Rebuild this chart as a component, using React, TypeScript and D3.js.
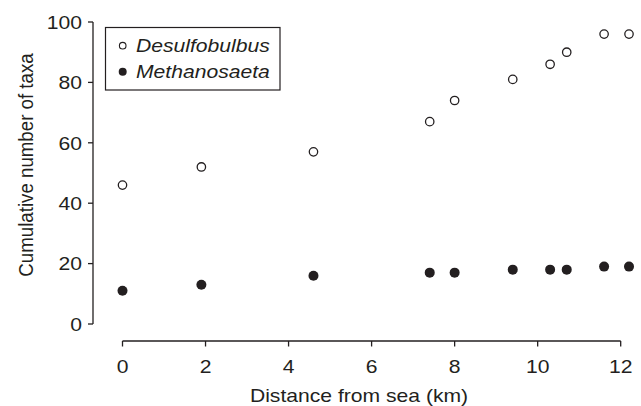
import * as d3 from 'd3';
import React, { useRef, useEffect } from 'react';

const distances = [0, 1.9, 4.6, 7.4, 8.0, 9.4, 10.3, 10.7, 11.6, 12.2];
const desulfobulbus = [46, 52, 57, 67, 74, 81, 86, 90, 96, 96];
const methanosaeta = [11, 13, 16, 17, 17, 18, 18, 18, 19, 19];
const xTicks = [0, 2, 4, 6, 8, 10, 12];
const yTicks = [0, 20, 40, 60, 80, 100];
const seriesNames = ['Desulfobulbus', 'Methanosaeta'];

const ink = '#231f20';
const font = 'Liberation Sans, Arial, Helvetica, sans-serif';
const fs = 18.7;
const sx = 1.13; // horizontal stretch of the original figure

const App: React.FC = () => {
  const ref = useRef<HTMLDivElement>(null);

  useEffect(() => {
    if (!ref.current) return;
    ref.current.innerHTML = '';

    const width = 641;
    const height = 406;

    const x = d3.scaleLinear().domain([0, 12]).range([122.5, 620.7]);
    const y = d3.scaleLinear().domain([0, 100]).range([324, 22]);

    const svg = d3.select(ref.current)
      .append('svg')
      .attr('width', width)
      .attr('height', height)
      .style('position', 'absolute')
      .style('left', '0px')
      .style('top', '0px')
      .style('background', '#fff');

    const label = (g: any, tx: number, ty: number, txt: string, anchor: string, rot = 0, italic = false) => {
      g.append('text')
        .attr('transform', rot
          ? `translate(${tx},${ty}) scale(${sx},1) rotate(${rot})`
          : `translate(${tx},${ty}) scale(${sx},1)`)
        .attr('text-anchor', anchor)
        .attr('font-family', font)
        .attr('font-size', fs)
        .attr('font-style', italic ? 'italic' : 'normal')
        .attr('fill', ink)
        .text(txt);
    };

    // y axis
    const yAxis = svg.append('g');
    yAxis.append('line')
      .attr('x1', 93).attr('x2', 93)
      .attr('y1', y(100)).attr('y2', y(0))
      .attr('stroke', ink).attr('stroke-width', 1.3);
    yTicks.forEach(t => {
      yAxis.append('line')
        .attr('x1', 88).attr('x2', 93)
        .attr('y1', y(t)).attr('y2', y(t))
        .attr('stroke', ink).attr('stroke-width', 1.3);
      label(yAxis, 82, y(t) + fs * 0.36, String(t), 'end');
    });

    // x axis
    const xAxis = svg.append('g');
    xAxis.append('line')
      .attr('x1', x(0)).attr('x2', x(12))
      .attr('y1', 341).attr('y2', 341)
      .attr('stroke', ink).attr('stroke-width', 1.3);
    xTicks.forEach(t => {
      xAxis.append('line')
        .attr('x1', x(t)).attr('x2', x(t))
        .attr('y1', 341).attr('y2', 346.5)
        .attr('stroke', ink).attr('stroke-width', 1.3);
      label(xAxis, x(t), 373.3, String(t), 'middle');
    });

    // titles
    label(svg, 359, 401.5, 'Distance from sea (km)', 'middle');
    label(svg, 33, 165, 'Cumulative number of taxa', 'middle', -90);

    // points
    svg.append('g')
      .selectAll('circle')
      .data(distances)
      .enter()
      .append('circle')
      .attr('cx', (d, i) => x(d))
      .attr('cy', (d, i) => y(methanosaeta[i]))
      .attr('r', 5)
      .attr('fill', ink);

    svg.append('g')
      .selectAll('circle')
      .data(distances)
      .enter()
      .append('circle')
      .attr('cx', (d, i) => x(d))
      .attr('cy', (d, i) => y(desulfobulbus[i]))
      .attr('r', 4.2)
      .attr('fill', '#fff')
      .attr('stroke', ink)
      .attr('stroke-width', 1.3);

    // legend
    const legend = svg.append('g');
    legend.append('rect')
      .attr('x', 105.5).attr('y', 27.5)
      .attr('width', 174.5).attr('height', 62.5)
      .attr('fill', '#fff')
      .attr('stroke', ink).attr('stroke-width', 1.2);
    legend.append('circle')
      .attr('cx', 122.7).attr('cy', 45.7).attr('r', 3.3)
      .attr('fill', '#fff').attr('stroke', ink).attr('stroke-width', 1.1);
    legend.append('circle')
      .attr('cx', 122.7).attr('cy', 71.7).attr('r', 4)
      .attr('fill', ink);
    label(legend, 136, 51.8, seriesNames[0], 'start', 0, true);
    label(legend, 136, 77.6, seriesNames[1], 'start', 0, true);
  }, []);

  return <div ref={ref} />;
};

export default App;
